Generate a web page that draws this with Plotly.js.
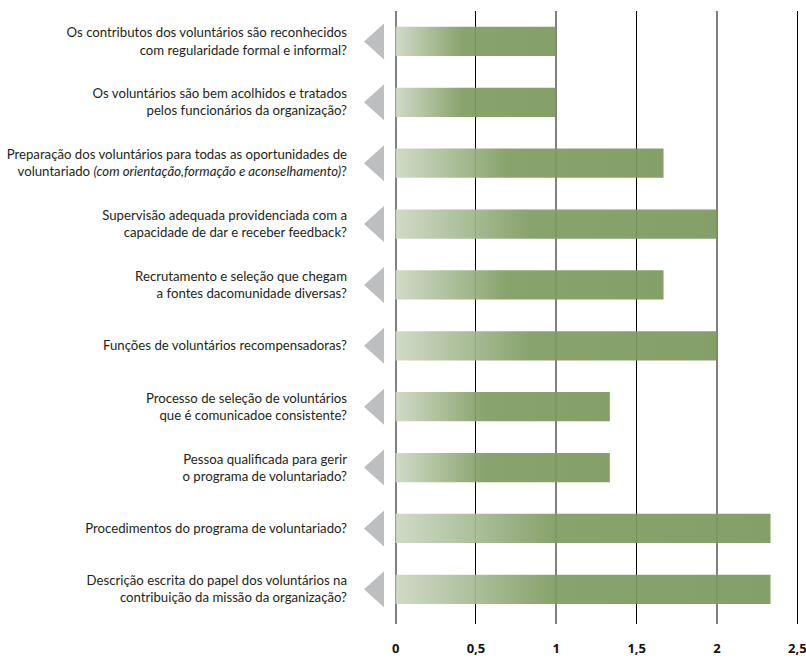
<!DOCTYPE html>
<html>
<head>
<meta charset="utf-8">
<script src="https://cdn.plot.ly/plotly-3.0.1.min.js"></script>
<style>html,body{margin:0;padding:0;background:#fff;}#chart{width:806px;height:658px;}</style>
</head>
<body>
<div id="chart"></div>
<script>
const categories = [
  "Os contributos dos voluntários são reconhecidos<br>com regularidade formal e informal?",
  "Os voluntários são bem acolhidos e tratados<br>pelos funcionários da organização?",
  "Preparação dos voluntários para todas as oportunidades de<br>voluntariado <i>(com orientação,formação e aconselhamento)</i>?",
  "Supervisão adequada providenciada com a<br>capacidade de dar e receber feedback?",
  "Recrutamento e seleção que chegam<br>a fontes dacomunidade diversas?",
  "Funções de voluntários recompensadoras?",
  "Processo de seleção de voluntários<br>que é comunicadoe consistente?",
  "Pessoa qualificada para gerir<br>o programa de voluntariado?",
  "Procedimentos do programa de voluntariado?",
  "Descrição escrita do papel dos voluntários na<br>contribuição da missão da organização?"
];
const values = [1, 1, 1.667, 2, 1.667, 2, 1.333, 1.333, 2.333, 2.333];
const xTickVals = [0, 0.5, 1, 1.5, 2, 2.5];
const xMajorVals = [0, 1, 2];

const traces = [
  {
    type: 'bar', orientation: 'h',
    x: values, y: categories,
    marker: {color: '#7f9c61', opacity: 0.93, line: {width: 0}},
    width: 0.48,
    hoverinfo: 'x'
  },
  {
    type: 'scatter', mode: 'none',
    x: values, y: categories,
    xaxis: 'x2', hoverinfo: 'skip', showlegend: false
  }
];

const shapes = categories.map((c, i) => ({
  type: 'path', xref: 'paper', yref: 'y',
  xsizemode: 'pixel', ysizemode: 'pixel',
  xanchor: 0, yanchor: c,
  path: 'M -10,-18 L -10,18 L -30,0 Z',
  fillcolor: '#bdbec0', line: {width: 0}, layer: 'above'
}));

const layout = {
  width: 806, height: 658,
  margin: {l: 394, r: 7, t: 11, b: 34},
  paper_bgcolor: '#fff', plot_bgcolor: 'rgba(0,0,0,0)',
  separators: ',.',
  showlegend: false,
  font: {family: 'Lato, "Noto Sans", sans-serif', size: 13.2, color: '#231f20'},
  xaxis: {
    range: [-0.01, 2.51], tickvals: xTickVals, ticks: '', showline: false, zeroline: false,
    showgrid: true, gridcolor: '#000', gridwidth: 1,
    tickfont: {family: '"Noto Sans", sans-serif', size: 13, color: '#111', weight: 'bold'},
    ticklabelstandoff: 15, ticklabeloverflow: 'allow', fixedrange: true
  },
  xaxis2: {
    overlaying: 'x', range: [-0.01, 2.51], tickvals: xMajorVals, showticklabels: false,
    ticks: '', showline: false, zeroline: false,
    showgrid: true, gridcolor: '#808080', gridwidth: 2, fixedrange: true
  },
  yaxis: {
    type: 'category', range: [9.57, -0.5], ticks: '', showline: false, showgrid: false,
    zeroline: false, ticklabelstandoff: 46, fixedrange: true
  },
  shapes: shapes
};

const gd = document.getElementById('chart');
function applyGradient() {
  const svg = gd.querySelector('svg.main-svg');
  if (!svg) return;
  let defs = svg.querySelector('defs');
  if (!defs) { defs = document.createElementNS('http://www.w3.org/2000/svg', 'defs'); svg.insertBefore(defs, svg.firstChild); }
  if (!defs.querySelector('#barGrad')) {
    const g = document.createElementNS('http://www.w3.org/2000/svg', 'linearGradient');
    g.setAttribute('id', 'barGrad');
    g.setAttribute('x1', '0'); g.setAttribute('y1', '0');
    g.setAttribute('x2', '1'); g.setAttribute('y2', '0');
    [['0', '#cdd8c3'], ['0.42', '#7f9c61'], ['1', '#7b985c']].forEach(([o, c]) => {
      const s = document.createElementNS('http://www.w3.org/2000/svg', 'stop');
      s.setAttribute('offset', o); s.setAttribute('stop-color', c);
      g.appendChild(s);
    });
    defs.appendChild(g);
  }
  gd.querySelectorAll('.barlayer .point path').forEach(p => { p.style.fill = 'url(#barGrad)'; });
}
Plotly.newPlot(gd, traces, layout, {displayModeBar: false, staticPlot: true}).then(() => {
  applyGradient();
  gd.on('plotly_afterplot', applyGradient);
});
</script>
</body>
</html>
